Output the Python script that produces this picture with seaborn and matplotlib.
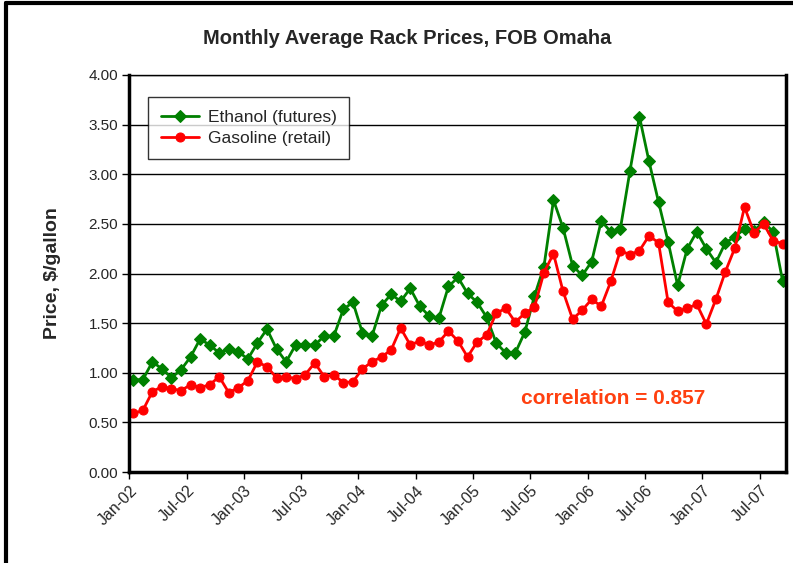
import numpy as np
import pandas as pd
import matplotlib
matplotlib.use("Agg")
import matplotlib.pyplot as plt
import seaborn as sns
from matplotlib.lines import Line2D

# monthly values, Jan-02 .. Sep-07
months = pd.date_range("2002-01-01", "2007-09-01", freq="MS")

ethanol = [0.93, 0.93, 1.11, 1.04, 0.95, 1.03, 1.16, 1.34, 1.28, 1.20, 1.24, 1.21,
           1.14, 1.30, 1.44, 1.24, 1.11, 1.28, 1.28, 1.28, 1.37, 1.37, 1.64, 1.71,
           1.40, 1.37, 1.68, 1.79, 1.72, 1.85, 1.67, 1.57, 1.55, 1.87, 1.96, 1.80,
           1.71, 1.56, 1.30, 1.20, 1.20, 1.41, 1.77, 2.07, 2.74, 2.46, 2.08, 1.98,
           2.12, 2.53, 2.42, 2.45, 3.03, 3.58, 3.13, 2.72, 2.32, 1.88, 2.25, 2.42,
           2.25, 2.11, 2.31, 2.37, 2.45, 2.43, 2.52, 2.42, 1.92]

gasoline = [0.59, 0.62, 0.81, 0.86, 0.84, 0.82, 0.88, 0.85, 0.88, 0.96, 0.80, 0.85,
            0.92, 1.11, 1.06, 0.95, 0.96, 0.94, 0.98, 1.10, 0.96, 0.98, 0.90, 0.91,
            1.04, 1.11, 1.16, 1.23, 1.45, 1.28, 1.32, 1.28, 1.31, 1.42, 1.32, 1.16,
            1.31, 1.38, 1.60, 1.65, 1.51, 1.60, 1.66, 2.01, 2.20, 1.82, 1.54, 1.63,
            1.74, 1.67, 1.92, 2.23, 2.19, 2.23, 2.38, 2.31, 1.71, 1.62, 1.65, 1.69,
            1.49, 1.74, 2.02, 2.26, 2.67, 2.41, 2.50, 2.33, 2.30]

tick_labels = ["Jan-02", "Jul-02", "Jan-03", "Jul-03", "Jan-04", "Jul-04",
               "Jan-05", "Jul-05", "Jan-06", "Jul-06", "Jan-07", "Jul-07"]

sns.set_style("white")
plt.rcParams["font.family"] = ["Liberation Sans", "DejaVu Sans"]

# month index, points sit a bit after the start of each month
x = np.arange(len(months)) + 0.42
df = pd.DataFrame({"x": x, "Ethanol (futures)": ethanol, "Gasoline (retail)": gasoline})

fig = plt.figure(figsize=(7.93, 5.63), dpi=100)
ax = fig.add_axes([0.163, 0.1616, 0.828, 0.7052])

sns.lineplot(data=df, x="x", y="Ethanol (futures)", ax=ax, color="#008000", marker="D",
             markersize=6, markeredgecolor="#008000", linewidth=2, label="Ethanol (futures)")
sns.lineplot(data=df, x="x", y="Gasoline (retail)", ax=ax, color="#ff0000", marker="o",
             markersize=6.5, markeredgecolor="#ff0000", linewidth=2, label="Gasoline (retail)")

ax.set_xlim(0, 68.75)
ax.set_ylim(0, 4)
ax.set_yticks(np.arange(0, 4.01, 0.5))
ax.set_yticklabels([f"{v:.2f}" for v in np.arange(0, 4.01, 0.5)], fontsize=11)
ax.set_xticks(np.arange(0, 68, 6))
ax.set_xticklabels(tick_labels, rotation=45, ha="right", rotation_mode="anchor", fontsize=11.5)
ax.tick_params(axis="both", direction="out", length=5, width=1, color="black", pad=3,
               bottom=True, left=True)
ax.grid(axis="y", color="black", linewidth=1)
ax.grid(axis="x", visible=False)
ax.set_axisbelow(True)

for side in ["left", "bottom", "right"]:
    ax.spines[side].set_color("black")
    ax.spines[side].set_linewidth(2.5)
ax.spines["top"].set_color("black")
ax.spines["top"].set_linewidth(1)

ax.set_xlabel("")
ax.set_ylabel("Price, $/gallon", fontsize=14, fontweight="bold", labelpad=20)
fig.text(0.513, 0.932, "Monthly Average Rack Prices, FOB Omaha", fontsize=14.5,
         fontweight="bold", ha="center", va="center")

leg = ax.legend(loc="upper left", bbox_to_anchor=(0.028, 0.945), borderaxespad=0,
                fontsize=12.5, frameon=True, fancybox=False, handlelength=2.2,
                borderpad=0.75, labelspacing=0.35, handletextpad=0.5)
leg.get_frame().set_edgecolor("black")
leg.get_frame().set_linewidth(1)

ax.text(0.597, 0.186, "correlation = 0.857", transform=ax.transAxes, fontsize=15,
        fontweight="bold", color="#ff4010", va="center")

# outer chart frame (left and top edges visible)
fig.add_artist(Line2D([0.007, 0.007], [0, 0.994], transform=fig.transFigure, color="black", linewidth=3))
fig.add_artist(Line2D([0.007, 1.0], [0.994, 0.994], transform=fig.transFigure, color="black", linewidth=3))

fig.savefig("out.png", dpi=100)
